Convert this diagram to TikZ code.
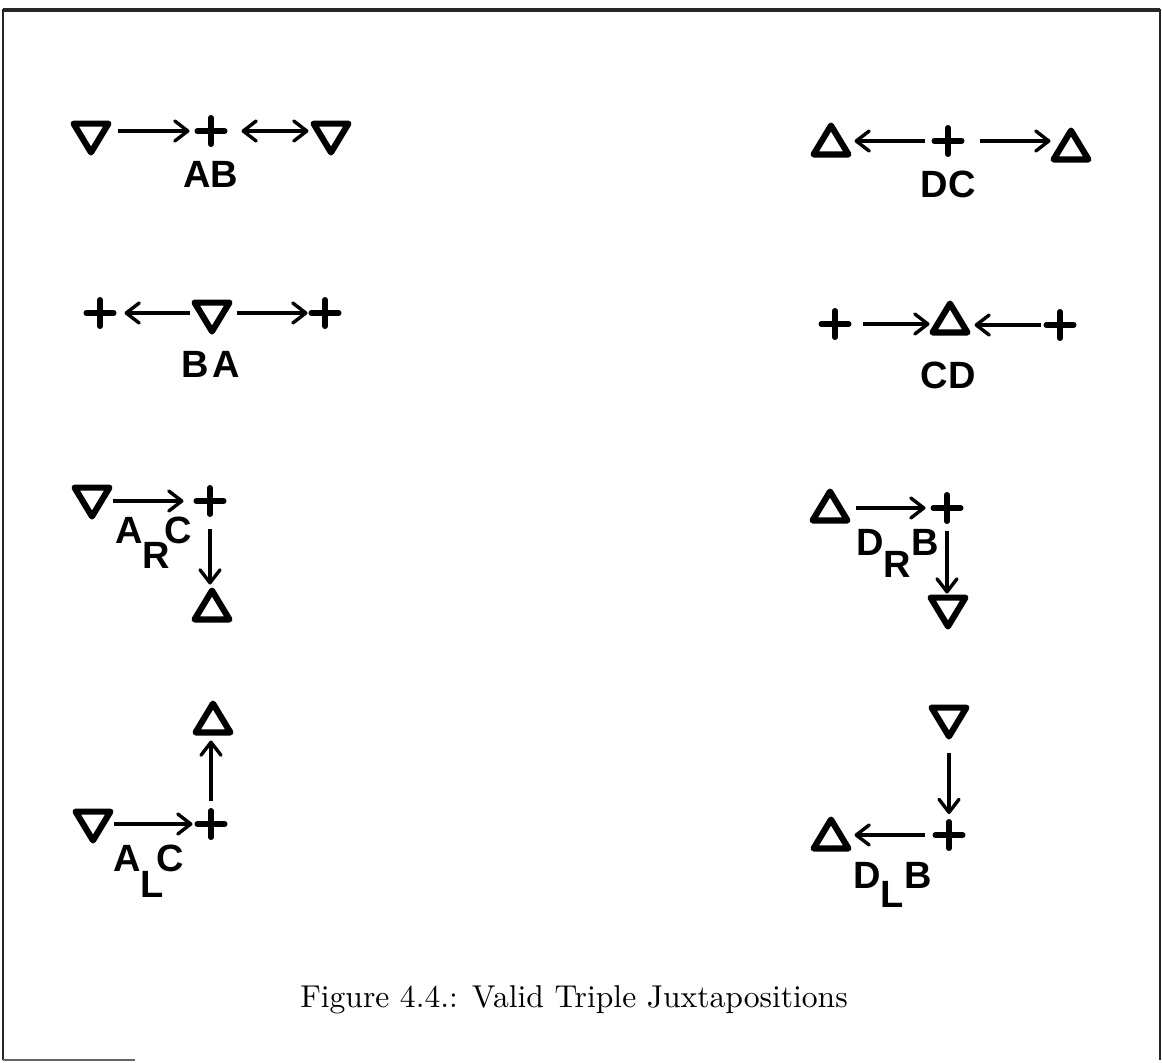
\documentclass[tikz,border=0pt]{standalone}
\usepackage{fontspec}
\newfontfamily\labelfont{Liberation Sans}
\newfontfamily\capfont{lmroman10-regular.otf}
\usetikzlibrary{arrows.meta}

\tikzset{
  sym/.style={inner sep=0pt, outer sep=0pt, minimum width=20.5pt, minimum height=17.5pt},
  tri up/.style={sym, path picture={
      \draw[line width=3.1pt, line join=round]
        ([yshift=-1.55pt]path picture bounding box.north)
        -- ([shift={(-1.55pt,1.55pt)}]path picture bounding box.south east)
        -- ([shift={(1.55pt,1.55pt)}]path picture bounding box.south west) -- cycle;}},
  tri down/.style={sym, path picture={
      \draw[line width=3.1pt, line join=round]
        ([yshift=1.55pt]path picture bounding box.south)
        -- ([shift={(-1.55pt,-1.55pt)}]path picture bounding box.north east)
        -- ([shift={(1.55pt,-1.55pt)}]path picture bounding box.north west) -- cycle;}},
  crossmark/.style={inner sep=0pt, outer sep=0pt, minimum width=16.5pt, minimum height=16pt,
    path picture={
      \draw[line width=2.8pt, line cap=round]
        ([xshift=1.4pt]path picture bounding box.west)
        -- ([xshift=-1.4pt]path picture bounding box.east)
        ([yshift=-1.4pt]path picture bounding box.north)
        -- ([yshift=1.4pt]path picture bounding box.south);}},
  barb/.tip={Straight Barb[length=6.5pt,width=10pt,round]},
  arr/.style={line width=1.7pt, -barb},
  lbl/.style={font=\labelfont\bfseries\fontsize{19pt}{22pt}\selectfont, inner sep=0pt},
  frame/.style={line width=0.9pt, black!85},
}

\begin{document}
\begin{tikzpicture}[x=0.5pt, y=-0.5pt]
\useasboundingbox (0,0) rectangle (1162,1062);

% page frame
\draw[frame] (3,1060) -- (3,10) -- (1160,10) -- (1160,1060);
\draw[frame, line width=1.6pt] (3,10) -- (1160,10);
\draw[frame, black!60] (3,1060) -- (135,1060);

% ---- AB ----
\node[tri down]  (ab1) at (91,138)  {};
\node[crossmark] (ab2) at (211,131) {};
\node[tri down]  (ab3) at (331,138) {};
\draw[arr, shorten <=3pt, shorten >=2.5pt] (ab1.east |- ab2) -- (ab2.west);
\draw[arr, barb-barb, shorten <=7pt, shorten >=1pt] (ab2.east) -- (ab3.west |- ab2);
\node[lbl, anchor=base] (abl) at (211,187) {AB};

% ---- DC ----
\node[tri up]    (dc1) at (831,140)  {};
\node[crossmark] (dc2) at (948,141)  {};
\node[tri up]    (dc3) at (1071,145) {};
\draw[arr, shorten <=3.5pt, shorten >=1.5pt] (dc2.west) -- (dc1.east |- dc2);
\draw[arr, shorten <=7.5pt, shorten >=0pt] (dc2.east) -- (dc3.west |- dc2);
\node[lbl, anchor=base] (dcl) at (948,197) {DC};

% ---- BA ----
\node[crossmark] (ba1) at (100,313) {};
\node[tri down]  (ba2) at (212,317) {};
\node[crossmark] (ba3) at (325,313) {};
\draw[arr, shorten <=1pt, shorten >=4pt] (ba2.west |- ba1) -- (ba1.east);
\draw[arr, shorten <=2pt, shorten >=0.5pt] (ba2.east |- ba3) -- (ba3.west);
\node[lbl, anchor=base] (bal) at (211,377) {B\kern2pt A};

% ---- CD ----
\node[crossmark] (cd1) at (835,324)  {};
\node[tri up]    (cd2) at (950,318)  {};
\node[crossmark] (cd3) at (1060,325) {};
\draw[arr, shorten <=5.5pt, shorten >=0pt] (cd1.east) -- (cd2.west |- cd1);
\draw[arr, shorten <=1.5pt, shorten >=2pt] (cd3.west) -- (cd2.east |- cd3);
\node[lbl, anchor=base] (cdl) at (948,388) {CD};

% ---- A_R C ----
\node[tri down]  (arc1) at (92,502)  {};
\node[crossmark] (arc2) at (210,501) {};
\node[tri up]    (arc3) at (212,605) {};
\draw[arr, shorten <=0pt, shorten >=5pt] (arc1.east |- arc2) -- (arc2.west);
\draw[arr, shorten <=6pt, shorten >=1.5pt] (arc2.south) -- (arc2 |- arc3.north);
\node[lbl, anchor=base west] (arcl) at (115,543) {A\raisebox{-12.5pt}{R}\kern-3pt C};

% ---- D_R B ----
\node[tri up]    (drb1) at (830,506) {};
\node[crossmark] (drb2) at (947,508) {};
\node[tri down]  (drb3) at (948,612) {};
\draw[arr, shorten <=2.5pt, shorten >=2.5pt] (drb1.east |- drb2) -- (drb2.west);
\draw[arr, shorten <=3.5pt, shorten >=0.5pt] (drb2.south) -- (drb2 |- drb3.north);
\node[lbl, anchor=base west] (drbl) at (856,555) {D\raisebox{-11pt}{R}B};

% ---- A_L C ----
\node[tri up]    (alc1) at (213,718) {};
\node[crossmark] (alc2) at (211,824) {};
\node[tri down]  (alc3) at (93,826)  {};
\draw[arr, shorten <=0pt, shorten >=1pt] (alc3.east |- alc2) -- (alc2.west);
\draw[arr, shorten <=3.5pt, shorten >=2.5pt] (alc2.north) -- (alc2 |- alc1.south);
\node[lbl, anchor=base west] (alcl) at (113,871) {A\raisebox{-13pt}{L}\kern-4pt C};

% ---- D_L B ----
\node[tri down]  (dlb1) at (949,722) {};
\node[crossmark] (dlb2) at (949,835) {};
\node[tri up]    (dlb3) at (831,834) {};
\draw[arr, shorten <=6.5pt, shorten >=2.5pt] (dlb1.south) -- (dlb1 |- dlb2.north);
\draw[arr, shorten <=4pt, shorten >=1.5pt] (dlb2.west) -- (dlb3.east |- dlb2);
\node[lbl, anchor=base west] (dlbl) at (853,888) {D\raisebox{-9.5pt}{L}B};

% caption
\node[font=\capfont\fontsize{15.8pt}{19pt}\selectfont, inner sep=0pt] (cap) at (574,1000)
  {Figure 4.4.: Valid Triple Juxtapositions};
\end{tikzpicture}
\end{document}
